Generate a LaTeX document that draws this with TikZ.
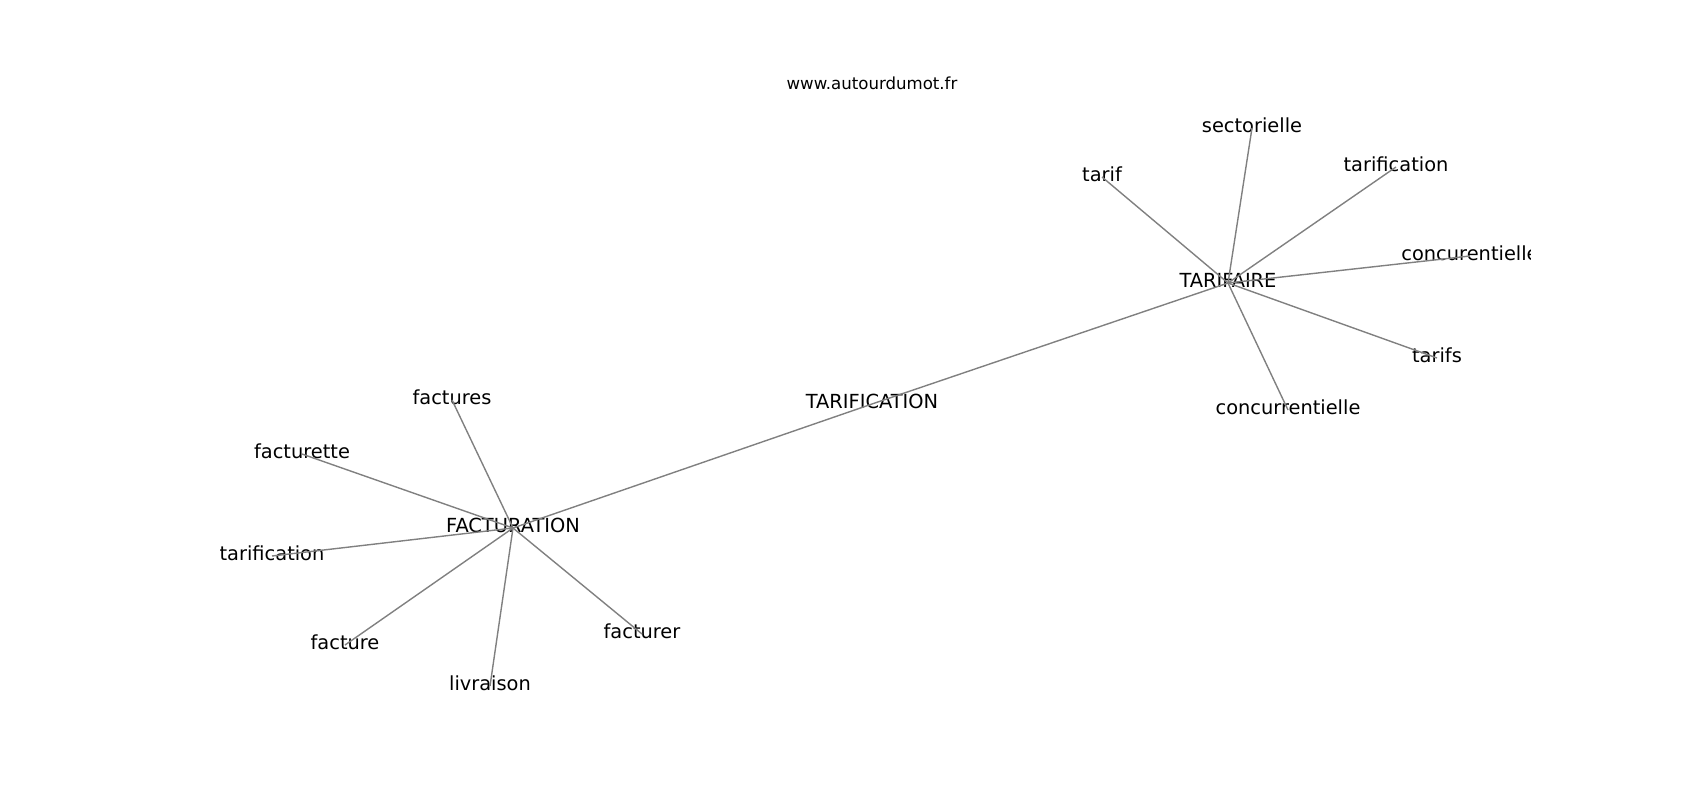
\documentclass[tikz,border=0pt]{standalone}
\usepackage{fontspec}
\setmainfont{DejaVu Sans}
\usepackage{tikz}
\usetikzlibrary{positioning}

\begin{document}
\begin{tikzpicture}[x=1pt, y=-1pt, thick]

    % Define styles
    \tikzstyle{word} = [inner sep=0pt, text height=0.9em, text depth=0.1em, font=\fontsize{19.4}{23}\selectfont]
    \tikzstyle{link} = [draw=gray, line width=1.4pt]

    \useasboundingbox (0,0) rectangle (1700,800);

    % Title
    \node[inner sep=0pt, font=\fontsize{16.6}{20}\selectfont] (title) at (872,83) {www.autourdumot.fr};

    \begin{scope}
    \clip (212.5,96) rectangle (1530,712);

    % Main chain
    \node[word] (facturation) at (513,528) {FACTURATION};
    \node[word] (tarification) at (872,404) {TARIFICATION};
    \node[word] (tarifaire) at (1228,283) {TARIFAIRE};

    % Around TARIFAIRE
    \node[word] (tarif) at (1102,177) {tarif};
    \node[word] (sectorielle) at (1252,128) {sectorielle};
    \node[word] (tarificationR) at (1396,167) {tarification};
    \node[word] (concurentielle) at (1470,256) {concurentielle};
    \node[word] (tarifs) at (1437,358) {tarifs};
    \node[word] (concurrentielle) at (1288,410) {concurrentielle};

    % Around FACTURATION
    \node[word] (factures) at (452,400) {factures};
    \node[word] (facturette) at (302,454) {facturette};
    \node[word] (tarificationL) at (272,556) {tarification};
    \node[word] (facture) at (345,645) {facture};
    \node[word] (livraison) at (490,686) {livraison};
    \node[word] (facturer) at (642,634) {facturer};

    % Links
    \draw[link] (facturation.center) -- (tarification.center);
    \draw[link] (tarification.center) -- (tarifaire.center);

    \draw[link] (tarifaire.center) -- (tarif.center);
    \draw[link] (tarifaire.center) -- (sectorielle.center);
    \draw[link] (tarifaire.center) -- (tarificationR.center);
    \draw[link] (tarifaire.center) -- (concurentielle.center);
    \draw[link] (tarifaire.center) -- (tarifs.center);
    \draw[link] (tarifaire.center) -- (concurrentielle.center);

    \draw[link] (facturation.center) -- (factures.center);
    \draw[link] (facturation.center) -- (facturette.center);
    \draw[link] (facturation.center) -- (tarificationL.center);
    \draw[link] (facturation.center) -- (facture.center);
    \draw[link] (facturation.center) -- (livraison.center);
    \draw[link] (facturation.center) -- (facturer.center);
    \end{scope}

\end{tikzpicture}
\end{document}
